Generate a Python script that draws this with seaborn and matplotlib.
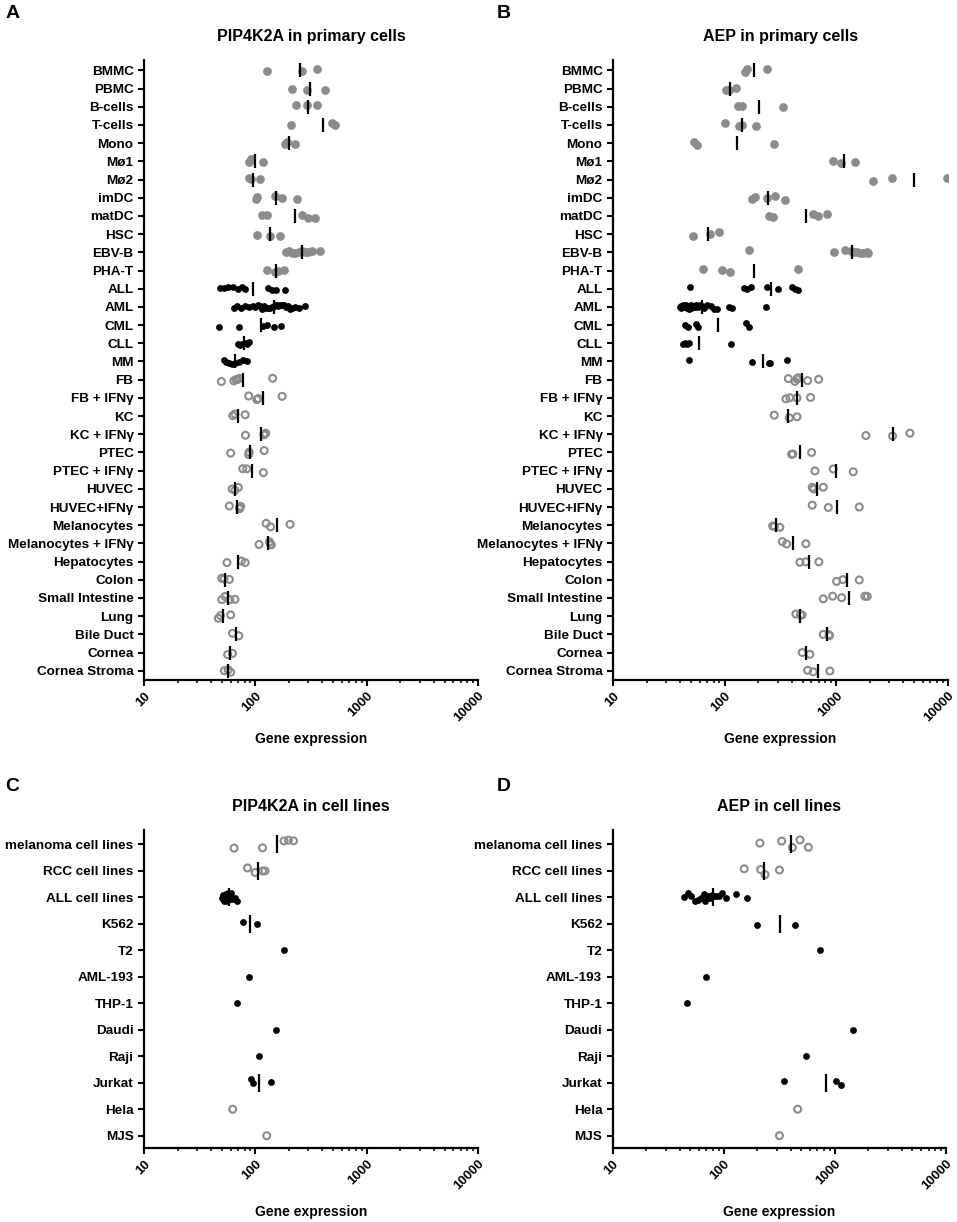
import warnings
import numpy as np
import pandas as pd
import matplotlib
matplotlib.use("Agg")
import matplotlib.pyplot as plt
import seaborn as sns
from matplotlib.ticker import FixedLocator, LogLocator, NullFormatter

warnings.filterwarnings("ignore")
np.random.seed(3)  # only for the small vertical jitter of the dots

# ---------------- data ----------------
blood_cells = ["BMMC", "PBMC", "B-cells", "T-cells", "Mono", "Mø1", "Mø2",
               "imDC", "matDC", "HSC", "EBV-B", "PHA-T"]
leukemia_cells = ["ALL", "AML", "CML", "CLL", "MM"]
tissue_cells = ["FB", "FB + IFNγ", "KC", "KC + IFNγ", "PTEC", "PTEC + IFNγ",
                "HUVEC", "HUVEC+IFNγ", "Melanocytes", "Melanocytes + IFNγ",
                "Hepatocytes", "Colon", "Small Intestine", "Lung", "Bile Duct",
                "Cornea", "Cornea Stroma"]
primary_cells = blood_cells + leukemia_cells + tissue_cells

pip4k2a_primary = [
    [128, 262, 361], [215, 290, 423], [233, 293, 356], [208, 486, 520],
    [185, 194, 228], [88, 92, 118], [87, 91, 110],
    [101, 104, 150, 175, 239], [114, 126, 261, 299, 344], [103, 134, 167],
    [188, 200, 212, 228, 245, 262, 280, 300, 325, 378], [128, 150, 160, 180],
    [48, 52, 57, 63, 70, 76, 81, 129, 140, 153, 185],
    [64, 68, 74, 80, 88, 95, 100, 105, 110, 115, 120, 125, 130, 135, 140,
     145, 150, 155, 160, 165, 172, 180, 188, 196, 205, 215, 228, 245, 280],
    [47, 72, 118, 126, 147, 169], [70, 73, 76, 80, 84, 88],
    [52, 55, 58, 62, 66, 72, 78, 84],
    [49.5, 64, 67, 69, 72, 143], [87, 103, 106, 174], [62.7, 65.6, 81],
    [81.5, 119, 121, 124], [60, 87, 88, 120], [77, 83.5, 118],
    [61.9, 65.6, 70.3], [58.4, 71.8, 72, 73.8], [125, 137, 205],
    [108, 134, 137, 139], [55.6, 75, 81], [49.9, 52.3, 58.4],
    [49.9, 53.5, 59, 65.6], [46.5, 48.6, 60], [62.3, 71], [56.4, 62.3],
    [52.7, 57, 60],
]

aep_primary = [
    [152, 158, 238], [103, 110, 126], [133, 142, 336], [101, 136, 142, 190],
    [53.5, 57, 277], [942, 1097, 1473], [2123, 3184, 9772],
    [178, 187, 238, 283, 348], [252, 270, 624, 692, 822], [51.7, 74, 89.7],
    [167, 955, 1200, 1350, 1450, 1550, 1650, 1750, 1880, 1950],
    [64.5, 95.4, 113, 458],
    [49, 150, 160, 172, 240, 303, 400, 430, 458],
    [40, 41, 41, 42, 43, 43, 44, 45, 45, 46, 47, 47, 48, 49, 50, 50, 52, 54,
     56, 58, 60, 63, 66, 70, 75, 80, 85, 110, 117, 235],
    [44, 47, 55, 58, 155, 165], [42, 44, 46, 48, 115],
    [48, 177, 252, 258, 360],
    [373, 427, 446, 458, 555, 697], [355, 385, 446, 590], [279, 380, 446],
    [1849, 3206, 4585], [399, 410, 603], [646, 942, 1423], [611, 631, 767],
    [611, 851, 1611], [270, 279, 313], [329, 360, 536], [474, 536, 701],
    [1010, 1150, 1611], [767, 930, 1120, 1811, 1900], [436, 480, 495],
    [767, 865, 870], [497, 582], [555, 624, 879],
]

solid_lines = ["melanoma cell lines", "RCC cell lines"]
leukemia_lines = ["ALL cell lines", "K562", "T2", "AML-193", "THP-1",
                  "Daudi", "Raji", "Jurkat"]
other_lines = ["Hela", "MJS"]
cell_lines = solid_lines + leukemia_lines + other_lines

pip4k2a_lines = [
    [64.4, 116, 181, 198, 220], [85, 99.5, 116, 122],
    [50, 51, 52, 53, 54, 55, 56, 57, 58, 59, 60, 61, 62, 64, 66, 68],
    [77, 103], [179], [87.8], [68], [152], [108], [90.8, 94.6, 137],
    [62.6], [126.5],
]

aep_lines = [
    [212, 333, 416, 487, 579], [153, 215, 236, 318],
    [44, 48, 51, 55, 59, 62, 66, 68, 72, 75, 78, 81, 85, 90, 96, 106, 130, 162],
    [198, 439], [738], [68.8], [47], [1473], [552], [352, 1028, 1132],
    [464], [318],
]

x_ticks = [10, 100, 1000, 10000]
x_tick_labels = ["10", "100", "1000", "10000"]

# ---------------- style ----------------
sns.set_style("ticks")
plt.rcParams["font.family"] = ["Liberation Sans", "DejaVu Sans"]
plt.rcParams["text.color"] = "black"
plt.rcParams["axes.labelcolor"] = "black"
plt.rcParams["xtick.color"] = "black"
plt.rcParams["ytick.color"] = "black"
GRAY = "#8c8c8c"


def to_long(cats, values):
    rows = [(c, v) for c, vals in zip(cats, values) for v in vals]
    return pd.DataFrame(rows, columns=["cell", "value"])


def draw_panel(ax, cats, values, filled_gray, black, open_gray, title,
               bar_size, jitter, ylim):
    df = to_long(cats, values)
    styles = [
        (filled_gray, dict(color=GRAY, size=6.3, linewidth=0)),
        (black, dict(color="black", size=4.9, linewidth=0)),
        (open_gray, dict(color=GRAY, size=5.0, linewidth=1.5,
                         facecolor="none", edgecolor=GRAY)),
    ]
    for group, kw in styles:
        sub = df[df["cell"].isin(group)]
        if sub.empty:
            continue
        sns.stripplot(data=sub, x="value", y="cell", order=cats, orient="h",
                      log_scale=True, jitter=jitter, ax=ax, **kw)

    stats = df.groupby("cell", sort=False)["value"].agg(["mean", "count"])
    stats = stats[stats["count"] > 1]
    pos = [cats.index(c) for c in stats.index]
    ax.scatter(stats["mean"], pos, marker="|", s=bar_size, c="black",
               linewidths=1.6, zorder=5)

    ax.set_xscale("log")
    ax.set_xlim(10, 10000)
    ax.set_ylim(*ylim)
    ax.xaxis.set_major_locator(FixedLocator(x_ticks))
    ax.xaxis.set_minor_locator(LogLocator(base=10, subs=np.arange(2, 10)))
    ax.xaxis.set_minor_formatter(NullFormatter())
    ax.set_xticklabels(x_tick_labels, rotation=45, ha="right",
                       rotation_mode="anchor", fontsize=9.5,
                       fontweight="bold")
    ax.set_yticks(range(len(cats)))
    ax.set_yticklabels(cats, fontsize=9.7, fontweight="bold")
    ax.set_ylabel("")
    ax.set_xlabel("Gene expression", fontsize=10, fontweight="bold")
    ax.set_title(title, fontsize=11.5, fontweight="bold", pad=14)
    ax.tick_params(axis="both", which="major", direction="out", length=4,
                   width=1.5, color="black")
    ax.tick_params(axis="x", which="minor", direction="out", length=2.5,
                   width=1.1)
    ax.tick_params(axis="x", which="major", pad=3)
    for side in ["top", "right"]:
        ax.spines[side].set_visible(False)
    for side in ["left", "bottom"]:
        ax.spines[side].set_linewidth(1.6)
        ax.spines[side].set_color("black")
    ax.grid(False)


fig = plt.figure(figsize=(9.57, 12.22), dpi=100)

ax_a = fig.add_axes([0.1505, 0.4435, 0.349, 0.5074])
ax_b = fig.add_axes([0.6405, 0.4435, 0.3498, 0.5074])
ax_c = fig.add_axes([0.1505, 0.0603, 0.349, 0.2605])
ax_d = fig.add_axes([0.6402, 0.0603, 0.348, 0.2605])

top_ylim = (len(primary_cells) - 0.49, -0.57)
bot_ylim = (len(cell_lines) - 0.525, -0.53)

draw_panel(ax_a, primary_cells, pip4k2a_primary, blood_cells, leukemia_cells,
           tissue_cells, "PIP4K2A in primary cells", 88, 0.12, top_ylim)
draw_panel(ax_b, primary_cells, aep_primary, blood_cells, leukemia_cells,
           tissue_cells, "AEP in primary cells", 88, 0.12, top_ylim)
draw_panel(ax_c, cell_lines, pip4k2a_lines, [], leukemia_lines,
           solid_lines + other_lines, "PIP4K2A in cell lines", 150, 0.16,
           bot_ylim)
draw_panel(ax_d, cell_lines, aep_lines, [], leukemia_lines,
           solid_lines + other_lines, "AEP in cell lines", 150, 0.16,
           bot_ylim)

for ax in [ax_a, ax_b]:
    ax.xaxis.set_label_coords(0.5, -0.084)
for ax in [ax_c, ax_d]:
    ax.xaxis.set_label_coords(0.5, -0.178)

for letter, x, y in [("A", 0.006, 0.989), ("B", 0.519, 0.989),
                     ("C", 0.006, 0.356), ("D", 0.519, 0.356)]:
    fig.text(x, y, letter, fontsize=14, fontweight="bold", va="center",
             ha="left")

fig.savefig("out.png", dpi=100)
